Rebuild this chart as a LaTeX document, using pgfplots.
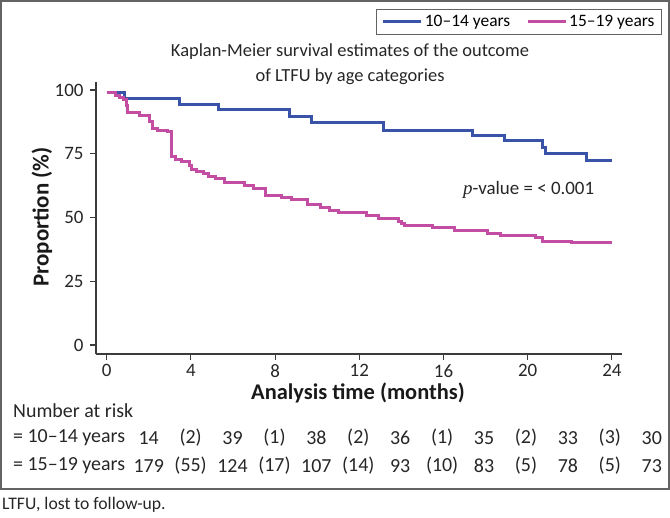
\documentclass[border=0pt]{standalone}
\usepackage{fontspec}
\setmainfont{Carlito}
\newfontfamily\serifit{Liberation Serif}
\usepackage{pgfplots}
\pgfplotsset{compat=1.18}
\definecolor{kmblue}{HTML}{3853A8}
\definecolor{kmpink}{HTML}{C44DA4}
\definecolor{axgray}{HTML}{3C3C3C}
\newcommand{\fs}[1]{\fontsize{#1}{#1}\selectfont}
\begin{document}
\begin{tikzpicture}[x=1bp,y=1bp]
\path[use as bounding box] (0,0) rectangle (670,-518);
\draw[axgray!80, line width=1.3bp] (1,-1) rectangle (669,-489);
\begin{axis}[
  at={(96bp,-354bp)}, anchor=south west,
  x=21.05bp, y=2.55bp,
  xmin=-0.508, xmax=24.48, ymin=-3.53, ymax=103.3,
  axis x line*=bottom, axis y line*=left,
  axis line style={axgray, line width=1.2bp, -},
  xtick={0,4,...,24}, ytick={0,25,50,75,100},
  tick style={axgray, line width=1.1bp},
  tick align=outside, major tick length=6bp,
  /pgf/number format/assume math mode=true,
  ticklabel style={font=\fs{19}, text=black!85},
  xticklabel style={yshift=-1bp},
  yticklabel style={xshift=-3bp},
  legend columns=2,
  legend cell align=left,
  legend style={at={(1.076,1.2665)}, anchor=north east, draw=axgray!80, line width=1.1bp,
    font=\fs{17.5}, inner xsep=5bp, inner ysep=4bp,
    /tikz/every even column/.append style={column sep=14bp}},
  legend image code/.code={\draw[#1] (0bp,0bp) -- (38bp,0bp);},
]
\addplot[kmblue, line width=3bp, const plot] coordinates {
(0,99.1) (0.84,96.7) (3.45,94.5) (5.3,92.2) (8.67,89.5) (9.74,87.2) (13.14,84.0)
(17.37,82.1) (18.92,80.3) (20.71,77.5) (20.86,75.2) (22.8,72.5) (24,72.5)};
\addlegendentry{10--14 years}
\addplot[kmpink, line width=3bp, const plot] coordinates {
(0,99.1) (0.4,98.0) (0.6,97.0) (0.79,96.1) (0.92,94.0) (0.98,91.3) (1.58,89.9) (2.02,87.6)
(2.18,85.0) (2.42,84.3) (2.88,83.6) (3.09,73.8) (3.25,72.9) (3.56,71.9) (3.93,70.2)
(4.04,68.9) (4.28,68.0) (4.59,67.1) (4.83,66.0) (5.15,65.1) (5.62,63.8) (6.57,62.5)
(6.96,61.5) (7.55,58.8) (8.31,57.9) (8.79,57.1) (9.55,55.2) (10.15,54.0) (10.6,52.9)
(11.0,51.9) (12.35,50.8) (12.9,49.6) (13.85,48.5) (14.0,47.6) (14.17,46.8) (15.5,45.9)
(16.5,44.9) (18.1,43.7) (18.7,43.1) (20.35,42.0) (20.72,40.7) (22.07,40.1) (24,40.1)};
\addlegendentry{15--19 years}
\end{axis}
% title
\node[align=center, font=\fontsize{18.5}{25}\selectfont, text=black!85] at (350,-64)
  {Kaplan-Meier survival estimates of the outcome\\ of LTFU by age categories};
% axis labels
\node[rotate=90, font=\fs{23}\bfseries, text=black!90] at (42,-217) {Proportion (\%)};
\node[font=\fs{22.5}\bfseries, text=black!90] at (358,-393) {Analysis time (months)};
% p-value
\node[anchor=west, font=\fs{19}, text=black!85, inner sep=0] at (463,-190)
  {{\serifit\itshape p}-value = \textless{} 0.001};
% number at risk
\node[anchor=west, font=\fs{20}, text=black!85, inner sep=0] at (13,-411) {Number at risk};
\node[anchor=west, font=\fs{20}, text=black!85, inner sep=0] at (13,-438) {= 10--14 years};
\node[anchor=west, font=\fs{20}, text=black!85, inner sep=0] at (13,-466) {= 15--19 years};
\foreach \v [count=\i from 0] in {14,(2),39,(1),38,(2),36,(1),35,(2),33,(3),30}
  \node[font=\fs{20}, text=black!85] at ({148.7+\i*41.92},-438) {\v};
\foreach \v [count=\i from 0] in {179,(55),124,(17),107,(14),93,(10),83,(5),78,(5),73}
  \node[font=\fs{20}, text=black!85] at ({148.7+\i*41.92},-466) {\v};
% caption
\node[anchor=west, font=\fs{17.7}, text=black!85, inner sep=0] at (2,-505) {LTFU, lost to follow-up.};
\end{tikzpicture}
\end{document}
